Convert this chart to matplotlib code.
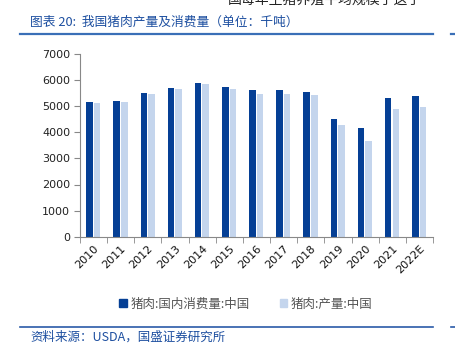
import matplotlib
matplotlib.use("Agg")
import matplotlib.pyplot as plt
import numpy as np
from matplotlib.lines import Line2D
from matplotlib.patches import Patch

plt.rcParams['font.family'] = ['Noto Sans CJK SC', 'DejaVu Sans']

years = ["2010", "2011", "2012", "2013", "2014", "2015", "2016", "2017",
         "2018", "2019", "2020", "2021", "2022E"]
consumption = [5150, 5190, 5520, 5700, 5890, 5730, 5630, 5610, 5540, 4510, 4160, 5330, 5380]
production = [5140, 5150, 5480, 5650, 5850, 5660, 5450, 5480, 5430, 4280, 3670, 4900, 4970]
yticks = [0, 1000, 2000, 3000, 4000, 5000, 6000, 7000]

title = "图表 20:  我国猪肉产量及消费量（单位：千吨）"
source = "资料来源：USDA，国盛证券研究所"
label_c = "猪肉:国内消费量:中国"
label_p = "猪肉:产量:中国"

dark = "#053f95"
light = "#c4d5ed"
blue_text = "#1d4fa0"

fig = plt.figure(figsize=(4.56, 3.53), dpi=100)
ax = fig.add_axes([80/456, 1-236.7/353, (433-80)/456, (236.7-54)/353])

x = np.arange(len(years))
w = 0.24
ax.bar(x - 0.15, consumption, width=w, color=dark, label=label_c)
ax.bar(x + 0.13, production, width=w, color=light, label=label_p)

ax.set_xlim(-0.5, len(years) - 0.5)
ax.set_ylim(0, 7000)
ax.set_yticks(yticks)
ax.set_yticklabels([str(v) for v in yticks], fontsize=8, color="#222222",
                   family="DejaVu Sans")
ax.set_xticks(x)
ax.set_xticklabels(years, rotation=45, ha="right", rotation_mode="anchor",
                   fontsize=8, color="#111111", family="DejaVu Sans")
ax.tick_params(axis="x", length=0, pad=5)
ax.set_xticks(np.arange(-0.5, len(years)), minor=True)
ax.tick_params(axis="x", which="minor", length=4, color="#888888", direction="out")
ax.tick_params(axis="y", length=4, color="#888888", pad=3)
for s in ["top", "right"]:
    ax.spines[s].set_visible(False)
for s in ["left", "bottom"]:
    ax.spines[s].set_color("#888888")
    ax.spines[s].set_linewidth(0.8)

handles = [Patch(color=dark), Patch(color=light)]
fig.legend(handles, [label_c, label_p], loc="center", bbox_to_anchor=(246/456, 1-304/353),
           ncol=2, frameon=False, fontsize=9, handlelength=0.6, handleheight=0.6,
           handletextpad=0.3, columnspacing=2.4, labelcolor="#555555")

# header / footer decorations
fig.text(30/456, 1-22/353, title, fontsize=9.2, color=blue_text, style="italic",
         va="center", ha="left")
fig.add_artist(Line2D([20/456, 433/456], [1-34/353, 1-34/353], color="#3a6fb7", lw=1.6))
fig.add_artist(Line2D([451/456, 1.0], [1-34/353, 1-34/353], color="#3a6fb7", lw=1.6))
fig.add_artist(Line2D([20/456, 433/456], [1-327/353, 1-327/353], color="#2a5aa8", lw=1.2))
fig.add_artist(Line2D([451/456, 1.0], [1-327/353, 1-327/353], color="#2a5aa8", lw=1.2))
fig.text(30/456, 1-337/353, source, fontsize=9, color=blue_text, style="italic",
         va="center", ha="left")
fig.text(228/456, 1-0/353, "国每年生猪养殖平均规模了这了", fontsize=10, color="#222222",
         va="center", ha="left")

fig.savefig("out.png", dpi=100)
